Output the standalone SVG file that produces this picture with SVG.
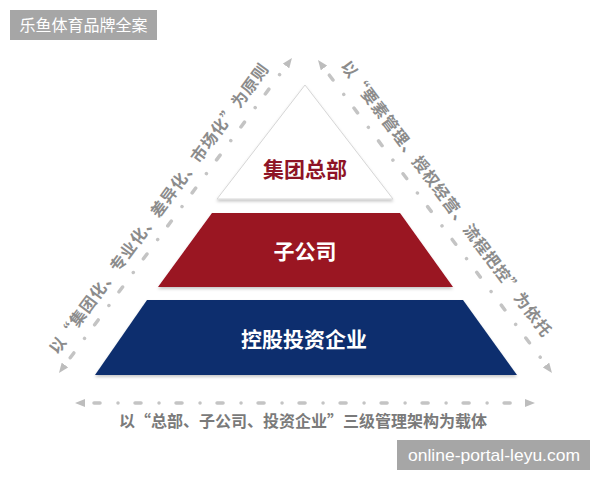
<svg xmlns="http://www.w3.org/2000/svg" width="600" height="480" viewBox="0 0 600 480">
<style>
.cjk{font-family:"Noto Sans CJK SC","Noto Sans",sans-serif}
.lvl{font-size:21px;font-weight:700;text-anchor:middle;dominant-baseline:central}
.side{font-size:16px;font-weight:700;fill:#8c8c8c;text-anchor:middle;dominant-baseline:central;letter-spacing:1px}
.dash{fill:none;stroke:#c4c4c4;stroke-width:3.5;stroke-linecap:round;stroke-dasharray:6 18 0.01 17;marker-start:url(#ah);marker-end:url(#ah)}
</style>
<defs>
<marker id="ah" viewBox="0 0 10 8" refX="0" refY="4" markerWidth="10" markerHeight="8" markerUnits="userSpaceOnUse" orient="auto-start-reverse">
<path d="M0,0 L10,4 L0,8 z" fill="#bdbdbd"/>
</marker>
<filter id="sh" x="-10%" y="-10%" width="120%" height="130%">
<feDropShadow dx="0" dy="2" stdDeviation="1.8" flood-color="#000" flood-opacity="0.22"/>
</filter>
</defs>
<rect width="600" height="480" fill="#ffffff"/>
<g id="title">
<rect x="10" y="10" width="147" height="30" fill="#a6a6a6"/>
<text class="cjk" x="83.5" y="31" font-size="16" fill="#ffffff" text-anchor="middle">乐鱼体育品牌全案</text>
</g>
<g id="connectors">
<path class="dash" d="M64.9,365 L286,66" stroke-dashoffset="32"/>
<path class="dash" d="M324,68 L546,365" stroke-dashoffset="32"/>
<path class="dash" d="M85,403 L525,403" stroke-dashoffset="32"/>
</g>
<g id="headquarters">
<polygon points="305,85 393,199 217,199" fill="#ffffff" stroke="#d6d6d6" stroke-width="1" filter="url(#sh)"/>
<text class="cjk lvl" x="305" y="168" fill="#8e1426">集团总部</text>
</g>
<g id="subsidiary">
<polygon points="212,213 400,213 453,287 158,287" fill="#9a1220" filter="url(#sh)"/>
<text class="cjk lvl" x="305" y="250" fill="#ffffff">子公司</text>
</g>
<g id="investment">
<polygon points="147,300 463,300 517,375 95,375" fill="#0d2f6e" filter="url(#sh)"/>
<text class="cjk lvl" x="304" y="338" fill="#ffffff">控股投资企业</text>
</g>
<g id="left-label">
<text class="cjk side" transform="translate(158.1,207.7) rotate(-53.5)">以“集团化、专业化、差异化、市场化”为原则</text>
</g>
<g id="right-label">
<text class="cjk side" transform="translate(447.4,198.2) rotate(53.2)">以“要素管理、授权经营、流程把控”为依托</text>
</g>
<g id="bottom-label">
<text class="cjk" x="303" y="427" font-size="16" font-weight="700" fill="#7a7a7a" text-anchor="middle">以“总部、子公司、投资企业”三级管理架构为载体</text>
</g>
<g id="watermark">
<rect x="397" y="440" width="193" height="30" fill="#a6a6a6"/>
<text x="494" y="461" font-family="Liberation Sans, Arial, sans-serif" font-size="17" fill="#ffffff" text-anchor="middle" textLength="172" lengthAdjust="spacingAndGlyphs">online-portal-leyu.com</text>
</g>
</svg>
